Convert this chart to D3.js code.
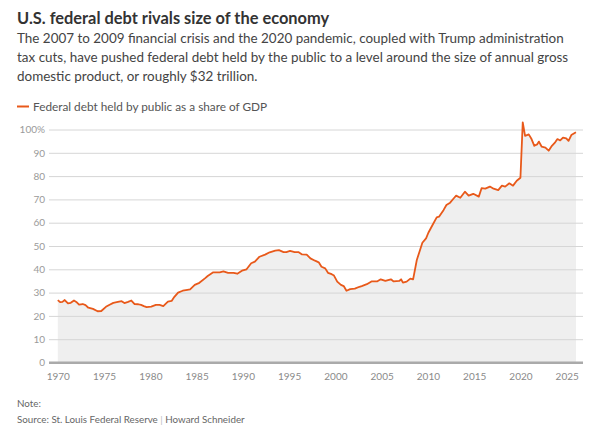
<!DOCTYPE html>
<html>
<head>
<meta charset="utf-8">
<script src="https://cdn.jsdelivr.net/npm/d3@7"></script>
<style>
    body { margin: 0; background: #fff; }
    text { font-family: Lato, "Noto Sans", sans-serif; }
</style>
</head>
<body>
<script>
// Federal debt held by the public as % of GDP
// (decimal year of each point, value in percent)
var years = [
    1970.0, 1970.25, 1970.5, 1970.75, 1971.1, 1971.4, 1971.75, 1972.0,
    1972.3, 1972.7, 1973.0, 1973.3, 1973.8, 1974.3, 1974.7, 1975.2,
    1975.6, 1976.0, 1976.5, 1976.9, 1977.2, 1977.6, 1977.95, 1978.3,
    1978.7, 1979.0, 1979.3, 1979.6, 1980.1, 1980.6, 1981.0, 1981.4,
    1981.9, 1982.3, 1982.6, 1983.0, 1983.5, 1984.0, 1984.3, 1984.8,
    1985.3, 1985.9, 1986.2, 1986.8, 1987.5, 1987.9, 1988.4, 1989.0,
    1989.4, 1989.9, 1990.4, 1990.9, 1991.3, 1991.8, 1992.4, 1992.9,
    1993.5, 1993.9, 1994.4, 1994.7, 1995.1, 1995.6, 1996.0, 1996.4,
    1996.9, 1997.3, 1997.8, 1998.2, 1998.5, 1998.9, 1999.2, 1999.6,
    1999.85, 2000.2, 2000.6, 2000.9, 2001.2, 2001.6, 2002.1, 2002.6,
    2002.85, 2003.4, 2003.9, 2004.5, 2004.9, 2005.4, 2006.0, 2006.3,
    2006.9, 2007.1, 2007.3, 2007.7, 2008.1, 2008.4, 2008.8, 2009.15,
    2009.4, 2009.8, 2010.05, 2010.5, 2010.95, 2011.2, 2011.7, 2012.0,
    2012.4, 2012.8, 2013.05, 2013.5, 2014.0, 2014.4, 2014.9, 2015.5,
    2015.8, 2016.2, 2016.7, 2017.1, 2017.6, 2018.0, 2018.35, 2018.8,
    2019.2, 2019.6, 2020.0, 2020.25, 2020.5, 2020.9, 2021.2, 2021.5,
    2021.8, 2022.0, 2022.3, 2022.7, 2023.05, 2023.4, 2023.75, 2024.0,
    2024.3, 2024.6, 2024.95, 2025.2, 2025.5, 2026.0
];
var debtShare = [
    26.8, 25.9, 26.0, 26.8, 25.4, 25.6, 26.6, 26.0,
    24.8, 25.1, 24.6, 23.5, 23.0, 22.0, 22.1, 23.9,
    24.8, 25.6, 26.0, 26.3, 25.5, 26.0, 26.6, 25.1,
    25.0, 24.7, 24.2, 23.8, 24.0, 24.7, 24.7, 24.2,
    26.1, 26.4, 28.2, 30.0, 30.8, 31.2, 31.4, 33.3,
    34.2, 36.1, 37.1, 38.7, 38.7, 39.1, 38.5, 38.5,
    38.1, 39.4, 40.0, 42.6, 43.3, 45.4, 46.3, 47.3,
    48.0, 48.2, 47.4, 47.4, 47.9, 47.4, 47.4, 46.4,
    46.3, 44.7, 43.7, 43.0, 41.1, 40.4, 38.5, 37.9,
    37.3, 34.7, 33.3, 32.8, 30.8, 31.5, 31.7, 32.5,
    32.8, 33.6, 34.8, 34.8, 35.7, 35.0, 35.7, 34.8,
    35.0, 35.7, 34.3, 34.7, 36.0, 35.7, 44.0, 48.3,
    51.4, 53.3, 55.7, 59.0, 62.3, 62.6, 65.5, 67.6,
    68.6, 70.5, 71.6, 70.7, 73.3, 71.6, 72.4, 71.2,
    74.8, 74.6, 75.5, 74.6, 74.0, 75.9, 75.5, 76.9,
    75.9, 78.0, 79.3, 103.1, 97.3, 97.9, 95.9, 93.0,
    93.6, 94.8, 92.6, 92.2, 90.9, 93.0, 94.5, 95.9,
    95.3, 96.5, 96.2, 95.1, 97.6, 98.8
];
var xTicks = [1970, 1975, 1980, 1985, 1990, 1995, 2000, 2005, 2010, 2015,
              2020, 2025];
var yTicks = [0, 10, 20, 30, 40, 50, 60, 70, 80, 90, 100];

var data = years.map(function(y, i) { return {year: y, value: debtShare[i]}; });

var W = 599, H = 441;
// plot area: gridlines run from left to right, zero line at bottom
var margin = {top: 129.5, right: 16, bottom: 78.5, left: 49},
    width = W - margin.left - margin.right,
    height = H - margin.top - margin.bottom;

var svg = d3.select("body").append("svg")
    .attr("width", W)
    .attr("height", H);

// header texts
svg.append("text")
    .attr("x", 17).attr("y", 23.5)
    .attr("font-size", "16.4px").attr("font-weight", "bold")
    .attr("fill", "#333")
    .text("U.S. federal debt rivals size of the economy");

var subtitle = [
    "The 2007 to 2009 financial crisis and the 2020 pandemic, coupled with Trump administration",
    "tax cuts, have pushed federal debt held by the public to a level around the size of annual gross",
    "domestic product, or roughly $32 trillion."
];
svg.selectAll("text.sub")
    .data(subtitle)
    .enter().append("text")
    .attr("class", "sub")
    .attr("x", 17)
    .attr("y", function(d, i) { return 43.3 + i * 19; })
    .attr("font-size", "13.45px")
    .attr("fill", "#444")
    .text(function(d) { return d; });

// legend
svg.append("line")
    .attr("x1", 17).attr("x2", 29)
    .attr("y1", 106.5).attr("y2", 106.5)
    .attr("stroke", "#e8591a").attr("stroke-width", 2);
svg.append("text")
    .attr("x", 33).attr("y", 110.5)
    .attr("font-size", "11.8px").attr("fill", "#555")
    .text("Federal debt held by public as a share of GDP");

var g = svg.append("g")
    .attr("transform", "translate(" + margin.left + "," + margin.top + ")");

// x: 1970 label sits a few px in from the left end of the gridlines
var xScale = d3.scaleLinear().domain([1970, 2025]).range([8.8, 517.7]);
var yScale = d3.scaleLinear().domain([0, 100]).range([height, 0]);

// gridlines + y labels
var yAxis = d3.axisLeft(yScale)
    .tickValues(yTicks)
    .tickSize(-width)
    .tickPadding(4)
    .tickFormat(function(d) { return d === 100 ? "100%" : d; });

var yG = g.append("g").attr("class", "y axis").call(yAxis);
yG.select(".domain").remove();
yG.selectAll(".tick line")
    .attr("stroke", function(d) { return d === 0 ? "#aaa" : "#d6d6d6"; })
    .attr("stroke-width", function(d) { return d === 0 ? 2 : 1; });
yG.selectAll(".tick text")
    .attr("font-family", "Lato, sans-serif")
    .attr("font-size", "10px")
    .attr("fill", "#9a9a9a");

// area under the line, then the line itself
var area = d3.area()
    .x(function(d) { return xScale(d.year); })
    .y0(yScale(0))
    .y1(function(d) { return yScale(d.value); });
var line = d3.line()
    .x(function(d) { return xScale(d.year); })
    .y(function(d) { return yScale(d.value); });

g.insert("path", ".y.axis")
    .datum(data)
    .attr("fill", "#efefef")
    .attr("d", area);

// redraw zero line on top of the fill
g.append("line")
    .attr("x1", 0).attr("x2", width)
    .attr("y1", yScale(0)).attr("y2", yScale(0))
    .attr("stroke", "#aaa").attr("stroke-width", 2);

g.append("path")
    .datum(data)
    .attr("fill", "none")
    .attr("stroke", "#e8591a")
    .attr("stroke-width", 1.8)
    .attr("stroke-linejoin", "round")
    .attr("d", line);

// x labels
var xAxis = d3.axisBottom(xScale)
    .tickValues(xTicks)
    .tickSize(0)
    .tickPadding(10)
    .tickFormat(d3.format("d"));
var xG = g.append("g")
    .attr("transform", "translate(0," + height + ")")
    .call(xAxis);
xG.select(".domain").remove();
xG.selectAll(".tick text")
    .attr("font-family", "Lato, sans-serif")
    .attr("font-size", "10px")
    .attr("fill", "#8a8a8a");

// footer
svg.append("text")
    .attr("x", 17).attr("y", 406.5)
    .attr("font-size", "9.8px").attr("fill", "#666")
    .text("Note:");
var src = svg.append("text")
    .attr("x", 17).attr("y", 422.5)
    .attr("font-size", "9.8px").attr("fill", "#666");
src.append("tspan").text("Source: St. Louis Federal Reserve ");
src.append("tspan").attr("fill", "#bbb").text("|");
src.append("tspan").text(" Howard Schneider");
</script>
</body>
</html>
